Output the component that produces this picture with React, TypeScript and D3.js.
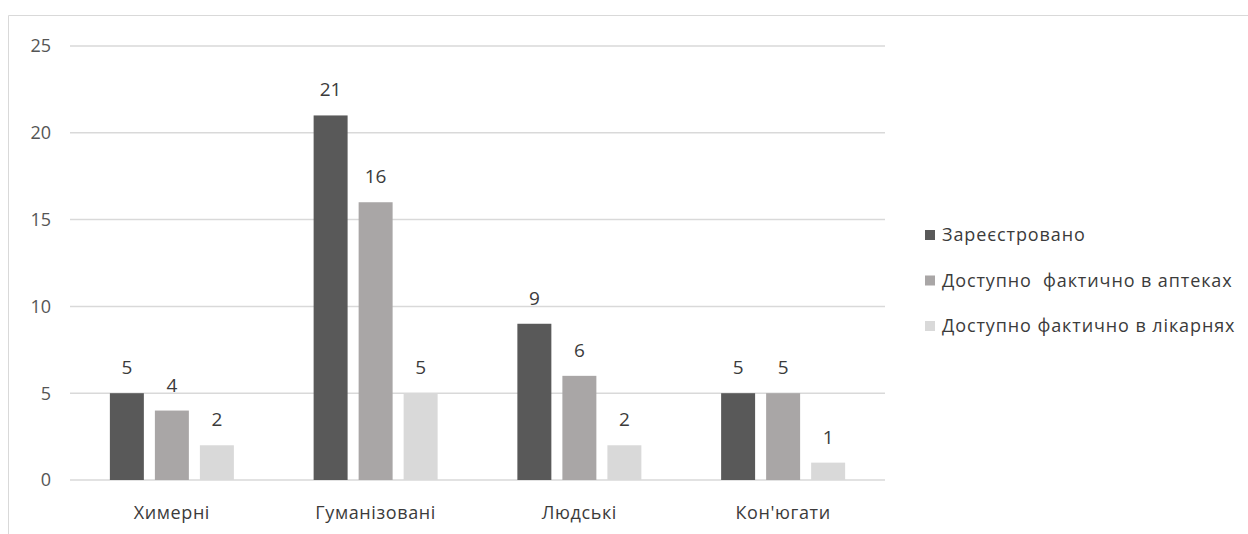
import React from "react";
import * as d3 from "d3";

const categories = ["Химерні", "Гуманізовані", "Людські", "Кон'югати"];
const seriesNames = [
  "Зареєстровано",
  "Доступно  фактично в аптеках",
  "Доступно фактично в лікарнях",
];
const registered = [5, 21, 9, 5];
const inPharmacies = [4, 16, 6, 5];
const inHospitals = [2, 5, 2, 1];
const yTicks = [0, 5, 10, 15, 20, 25];

const seriesValues = [registered, inPharmacies, inHospitals];
const seriesColors = ["#595959", "#a9a6a6", "#d9d9d9"];

const W = 1248;
const H = 534;
const FONT = "'Open Sans', 'Noto Sans', sans-serif";
const TEXT = "#3b3b3b";

export default function App() {
  const x = d3.scaleBand<string>().domain(categories).range([70, 885]).padding(0);
  const groupWidth = 124;
  const inner = d3
    .scaleBand<number>()
    .domain(d3.range(seriesValues.length))
    .range([0, groupWidth])
    .paddingInner(0.245)
    .paddingOuter(0);
  const y = d3.scaleLinear().domain([0, 25]).range([480, 46]);

  return (
    <svg
      width={W}
      height={H}
      style={{ position: "absolute", left: 0, top: 0, background: "#fff" }}
      fontFamily={FONT}
    >
      {/* chart frame */}
      <line x1={8.5} x2={8.5} y1={15.5} y2={H} stroke="#d9d9d9" />
      <line x1={8.5} x2={W} y1={15.5} y2={15.5} stroke="#d9d9d9" />

      {/* gridlines and y tick labels */}
      {yTicks.map((t) => (
        <g key={t}>
          <line x1={70} x2={885} y1={y(t)} y2={y(t)} stroke="#d9d9d9" strokeWidth={1.5} />
          <text x={51} y={y(t)} dy="0.35em" textAnchor="end" fontSize={18} fill="#555">
            {t}
          </text>
        </g>
      ))}

      {/* bars with value labels */}
      {categories.map((c, ci) => {
        const x0 = (x(c) ?? 0) + (x.bandwidth() - groupWidth) / 2;
        return (
          <g key={c}>
            {seriesValues.map((vals, si) => {
              const v = vals[ci];
              const bx = x0 + (inner(si) ?? 0);
              return (
                <g key={si}>
                  <rect
                    x={bx}
                    y={y(v)}
                    width={inner.bandwidth()}
                    height={y(0) - y(v)}
                    fill={seriesColors[si]}
                  />
                  <text
                    x={bx + inner.bandwidth() / 2}
                    y={y(v) - 19}
                    textAnchor="middle"
                    fontSize={19}
                    fill={TEXT}
                  >
                    {v}
                  </text>
                </g>
              );
            })}
            <text
              x={(x(c) ?? 0) + x.bandwidth() / 2}
              y={519}
              textAnchor="middle"
              fontSize={18}
              letterSpacing={0.6}
              fill={TEXT}
            >
              {c}
            </text>
          </g>
        );
      })}

      {/* legend */}
      {seriesNames.map((name, i) => {
        const ly = 235 + i * 45.5;
        return (
          <g key={name}>
            <rect x={925} y={ly - 5} width={10} height={10} fill={seriesColors[i]} />
            <text
              x={942}
              y={ly}
              dy="0.35em"
              fontSize={18}
              letterSpacing={0.9}
              fill={TEXT}
              style={{ whiteSpace: "pre" }}
            >
              {name}
            </text>
          </g>
        );
      })}
    </svg>
  );
}
